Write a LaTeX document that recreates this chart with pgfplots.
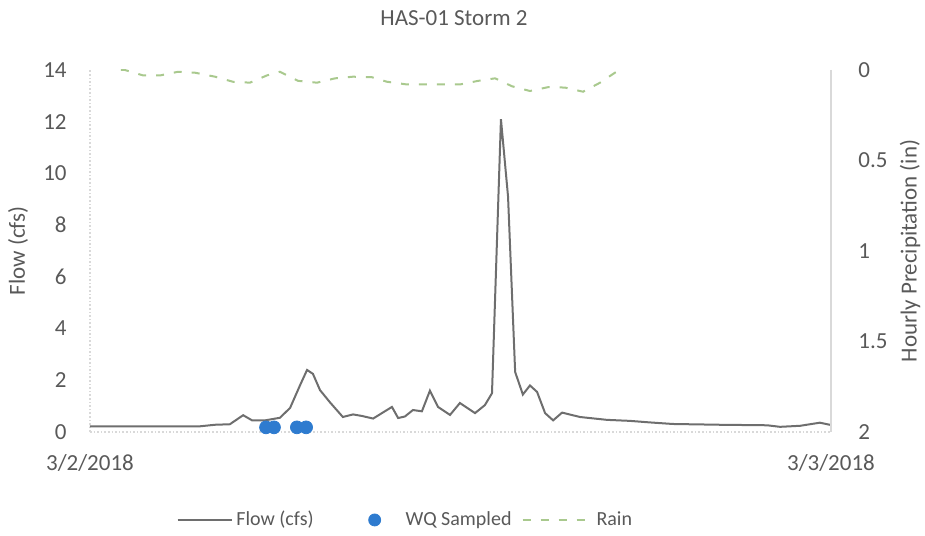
\documentclass[border=0pt]{standalone}
\usepackage{pgfplots}
\pgfplotsset{compat=1.18}
\usepackage{fontspec}
\setmainfont{Carlito}
\definecolor{txt}{HTML}{595959}
\definecolor{flow}{HTML}{6E6E6E}
\definecolor{wq}{HTML}{2E7BCF}
\definecolor{rain}{HTML}{A9C98E}
\definecolor{axl}{HTML}{D9D9D9}

\begin{document}
\begin{tikzpicture}
\path[use as bounding box] (-45pt,-51.5pt) rectangle (417.5pt,216pt);
\fontsize{11.5}{13}\selectfont
\pgfplotsset{
every axis/.append style={
  scale only axis, width=370.5pt, height=181pt,
  at={(0,0)}, anchor=south west,
  xmin=0, xmax=24,
  major tick length=0pt,
  tick label style={font=\fontsize{11.5}{13}\selectfont, text=txt},
  label style={font=\fontsize{11.5}{13}\selectfont, text=txt},
  /pgf/number format/assume math mode=true,
}}
% flow axis (left)
\begin{axis}[
  axis y line*=left, axis x line*=bottom,
  axis line style={axl, densely dotted, line width=0.8pt, -},
  ymin=0, ymax=14, ytick={0,2,...,14},
  xtick={0,24}, xticklabels={3/2/2018,3/3/2018},
  xticklabel style={inner sep=0pt, anchor=north, yshift=-11pt},
  yticklabel style={inner sep=0pt, anchor=east, xshift=-11.5pt},
  ylabel={Flow (cfs)},
  ylabel style={at={(axis description cs:-0.097,0.5)}, anchor=center},
  legend columns=3,
  legend style={at={(axis description cs:0.427,-0.243)}, anchor=center, draw=none,
    font=\fontsize{10}{12}\selectfont, text=txt,
    /tikz/every odd column/.append style={column sep=0pt},
    /tikz/every even column/.append style={column sep=15pt}},
  legend cell align=left,
]
\addplot[flow, line width=1pt, mark=none,
  legend image code/.code={\draw[flow, line width=0.8pt] (0pt,0pt) -- (27pt,0pt);}] coordinates {
(0,0.22) (1.94,0.22) (3.56,0.22) (4.05,0.28) (4.53,0.30) (4.96,0.65)
(5.25,0.45) (5.67,0.45) (6.15,0.55) (6.48,0.93) (6.80,1.80) (7.03,2.40)
(7.22,2.25) (7.45,1.62) (7.77,1.15) (8.19,0.58) (8.52,0.68) (8.81,0.62)
(9.17,0.52) (9.78,0.97) (9.98,0.54) (10.20,0.60) (10.46,0.85) (10.75,0.80)
(11.01,1.60) (11.27,0.97) (11.66,0.66) (11.98,1.12) (12.47,0.73) (12.79,1.04)
(13.02,1.50) (13.31,12.10) (13.54,9.10) (13.77,2.32) (14.02,1.45) (14.25,1.80)
(14.48,1.55) (14.74,0.73) (15.00,0.45) (15.29,0.75) (15.87,0.58) (16.74,0.47)
(17.49,0.43) (18.14,0.37) (18.88,0.31) (20.40,0.28) (21.93,0.26) (22.35,0.20)
(23.00,0.24) (23.64,0.36) (24.00,0.27)
};
\addlegendentry{Flow (cfs)}
\addplot[only marks, mark=*, mark size=3.2pt, color=wq,
  legend image code/.code={\fill[wq] (13.5pt,0pt) circle (3pt); \path[draw=none] (0pt,0pt) -- (27pt,0pt);}] coordinates {
(5.70,0.18) (5.96,0.18) (6.70,0.18) (7.00,0.18)
};
\addlegendentry{WQ Sampled}
\addlegendimage{rain, line width=1pt, dash pattern=on 4pt off 5pt,
  legend image code/.code={\draw[overlay, rain, line width=1pt, dash pattern=on 4pt off 5pt] (-11.5pt,0pt) -- (23.5pt,0pt);
    \path[draw=none] (0pt,0pt) -- (23.5pt,0pt);}}
\addlegendentry{Rain}
\end{axis}
% rain axis (right, reversed)
\begin{axis}[
  axis y line*=right, axis x line=none,
  axis line style={axl, line width=0.8pt, -},
  ymin=0, ymax=2, y dir=reverse,
  ytick={0,0.5,1,1.5,2}, yticklabels={0,0.5,1,1.5,2},
  yticklabel style={inner sep=0pt, anchor=west, xshift=13.5pt},
  ylabel={Hourly Precipitation (in)},
  ylabel style={at={(axis description cs:1.1066,0.5)}, anchor=center},
]
\addplot[rain, line width=1pt, dash pattern=on 4pt off 5pt, mark=none] coordinates {
(1.00,0.0) (1.13,0.0) (1.72,0.03) (2.27,0.03) (2.85,0.01) (3.40,0.015)
(4.05,0.037) (4.63,0.065) (5.18,0.07) (5.73,0.03) (6.15,0.01) (6.74,0.06)
(7.35,0.07) (7.94,0.046) (8.52,0.037) (9.13,0.04) (9.62,0.065) (10.27,0.08)
(11.98,0.08) (12.57,0.06) (13.12,0.046) (13.67,0.09) (14.25,0.116) (14.83,0.095)
(15.38,0.097) (15.97,0.12) (16.52,0.07) (17.00,0.015) (17.17,0.0)
};
\end{axis}
\node[text=txt, font=\fontsize{11.5}{13}\selectfont] at (182pt,207pt) {HAS-01 Storm 2};
\end{tikzpicture}
\end{document}
